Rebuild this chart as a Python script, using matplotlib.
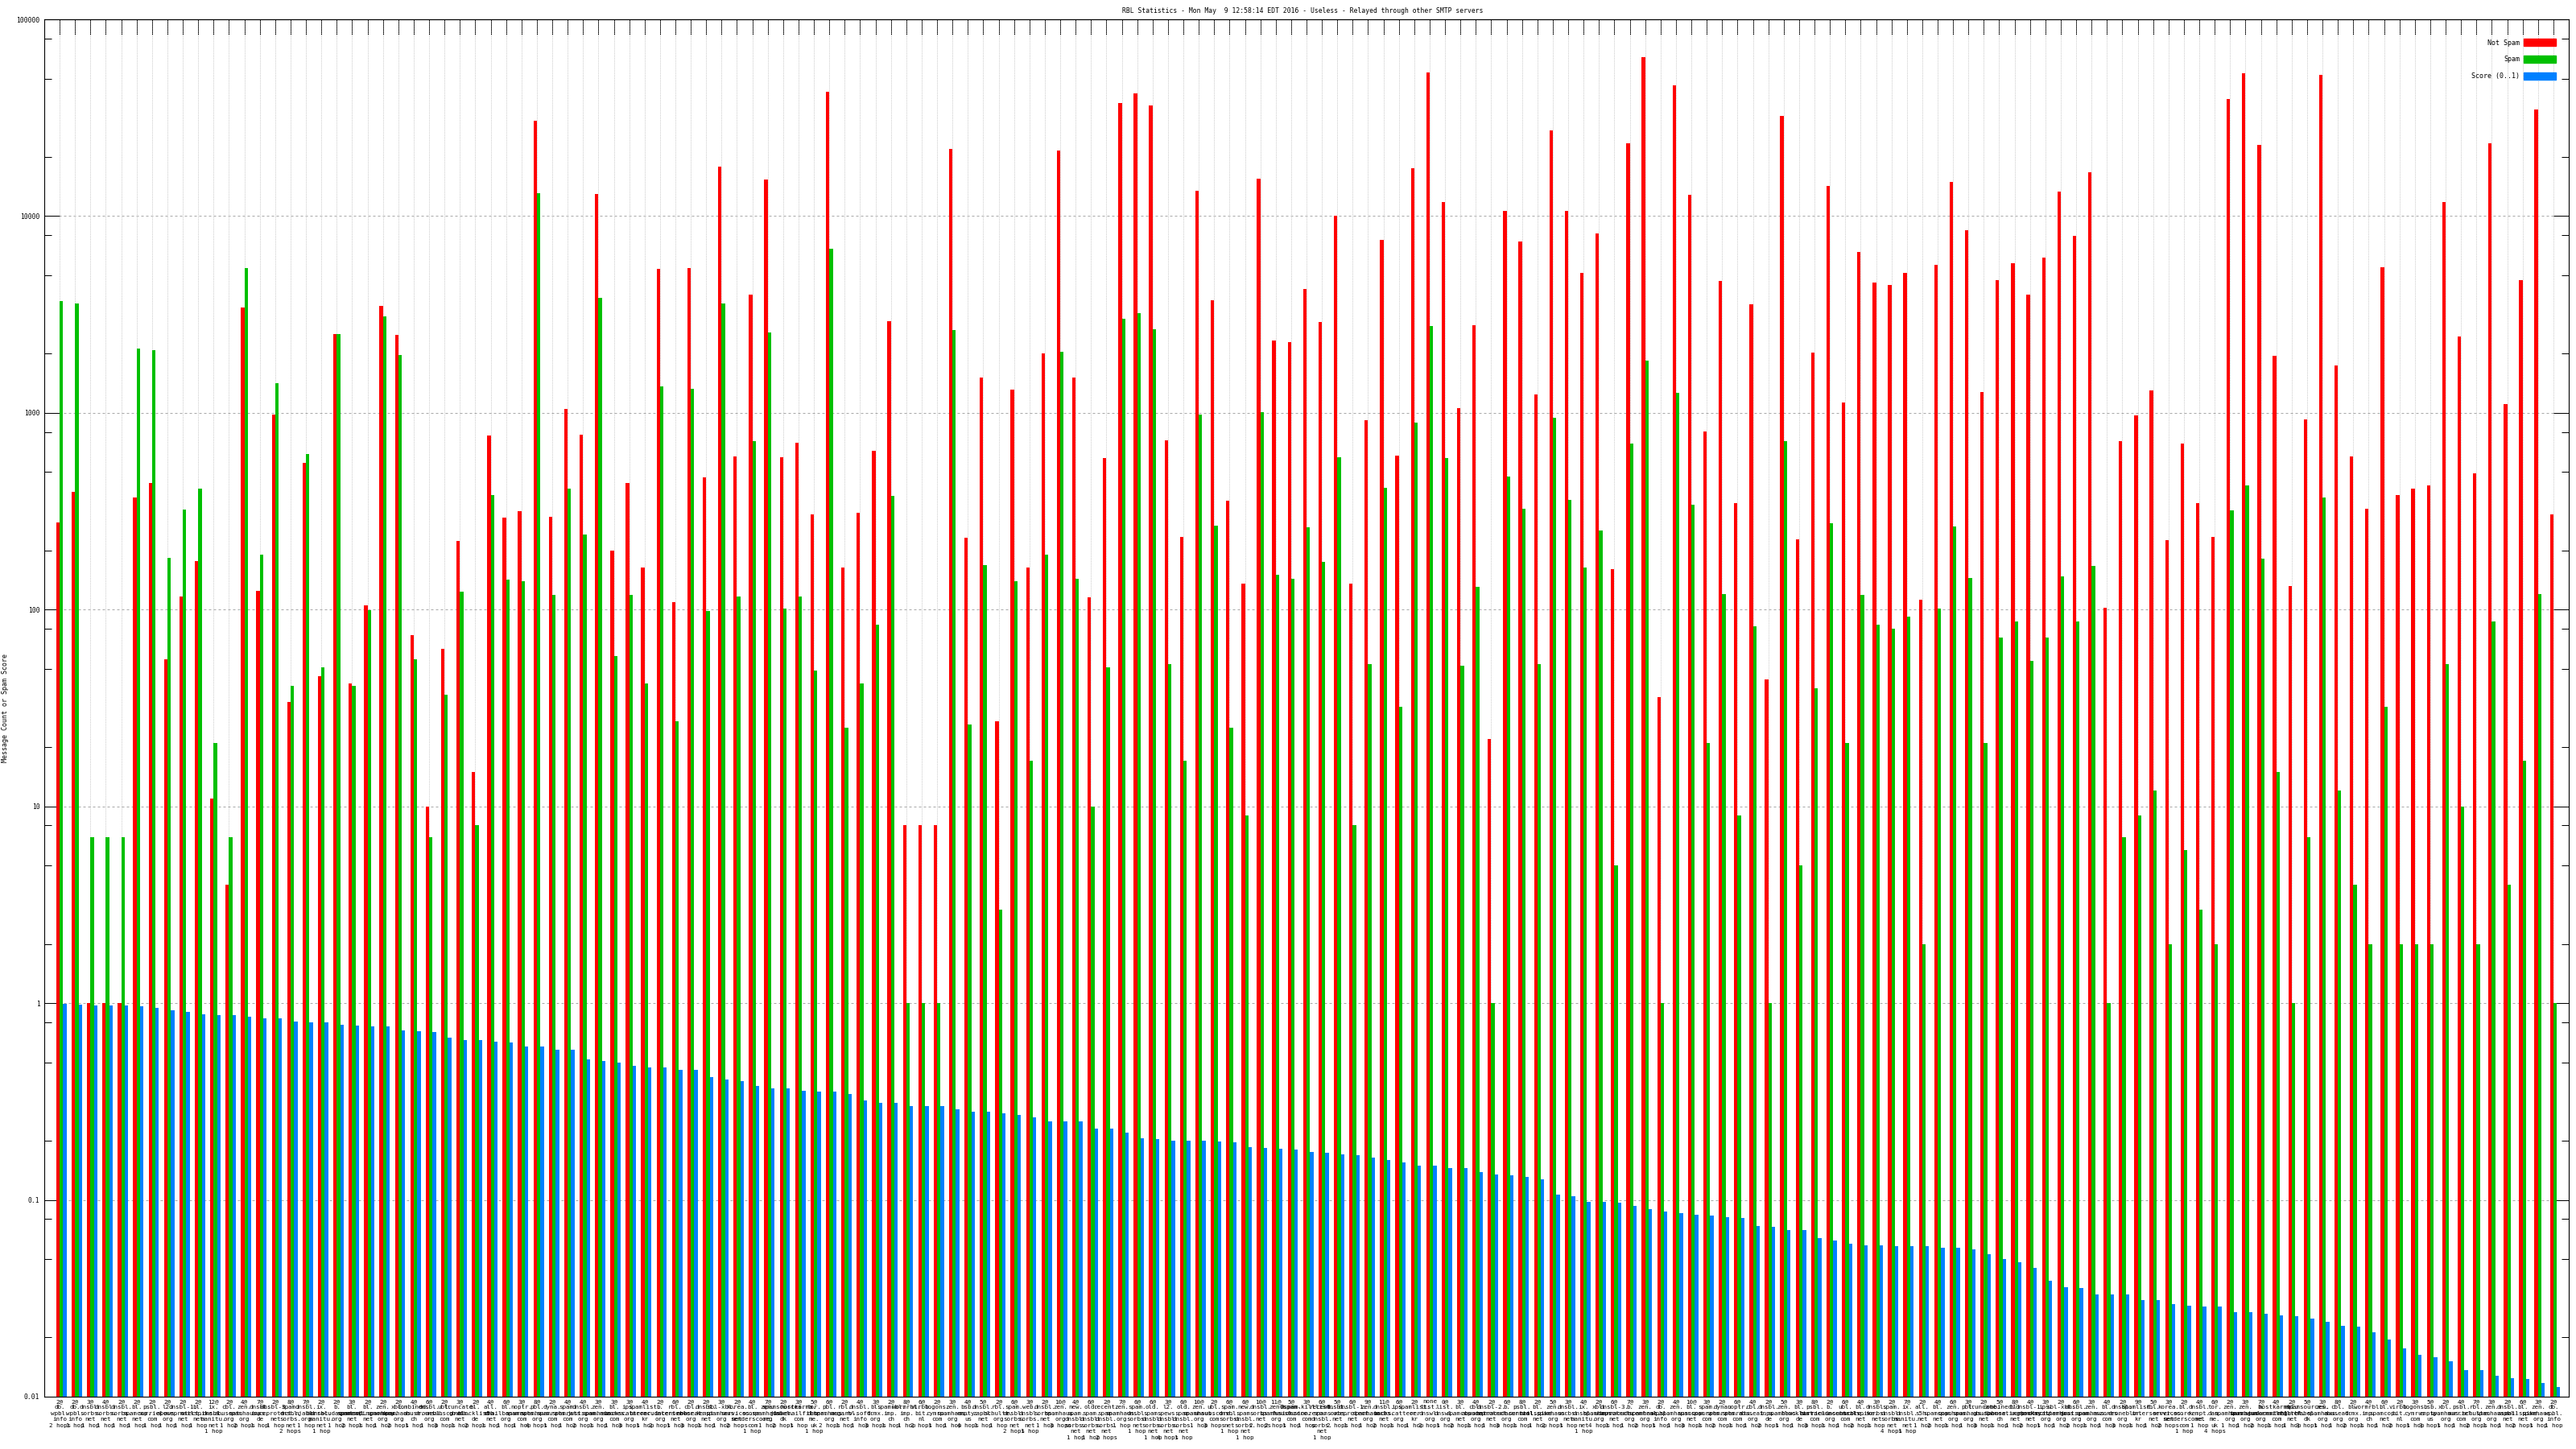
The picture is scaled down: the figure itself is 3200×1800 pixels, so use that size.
import numpy as np
import matplotlib
matplotlib.use("Agg")
import matplotlib.pyplot as plt
from matplotlib.patches import Patch
from matplotlib.ticker import FixedLocator, NullFormatter

plt.rcParams['font.family'] = ['DejaVu Sans Mono', 'DejaVu Sans']

title = "RBL Statistics - Mon May  9 12:58:14 EDT 2016 - Useless - Relayed through other SMTP servers"
series_names = ["Not Spam", "Spam", "Score (0..1)"]

# threshold ("N@"), rbl zone and hop count for each x label
thresholds = [
    "2", "2", "3", "4", "2", "2", "2", "2", "2", "2",
    "12", "2", "4", "7", "2", "8", "7", "2", "2", "3",
    "2", "2", "2", "4", "6", "2", "3", "2", "4", "6",
    "3", "8", "2", "4", "4", "3", "3", "3", "4", "2",
    "6", "2", "2", "3", "2", "4", "7", "2", "3", "5",
    "6", "2", "4", "3", "2", "8", "6", "2", "3", "4",
    "5", "2", "6", "3", "2", "10", "4", "6", "2", "7",
    "6", "6", "3", "6", "10", "2", "6", "6", "10", "11",
    "5", "3", "6", "5", "6", "9", "11", "6", "2", "none",
    "0", "3", "4", "2", "6", "8", "2", "5", "3", "4",
    "2", "6", "7", "3", "2", "4", "10", "3", "2", "6",
    "4", "2", "5", "3", "8", "2", "6", "4", "3", "2",
    "7", "2", "4", "6", "3", "2", "5", "8", "4", "3",
    "2", "6", "3", "4", "2", "9", "5", "3", "2", "4",
    "6", "2", "3", "7", "4", "2", "5", "3", "8", "2",
    "4", "6", "2", "3", "5", "2", "4", "7", "3", "2",
    "6", "3", "2",
]

zones = [
    "db.wpbl.info", "db.wpbl.info", "dnsbl.sorbs.net", "dnsbl.sorbs.net", "dnsbl.sorbs.net",
    "bl.spamcop.net", "psbl.surriel.com", "l2.apews.org", "dnsbl-1.uceprotect.net", "bl.mailspike.net",
    "ix.dnsbl.manitu.net", "cbl.abuseat.org", "zen.spamhaus.org", "dnsbl.inps.de", "dnsbl-3.uceprotect.net",
    "spam.dnsbl.sorbs.net", "dnsbl.njabl.org", "ix.dnsbl.manitu.net", "b.barracudacentral.org", "bl.spamcop.net",
    "bl.spameatingmonkey.net", "zen.spamhaus.org", "xbl.spamhaus.org", "combined.abuse.ch", "dnsbl.dronebl.org",
    "ubl.unsubscore.com", "truncate.gbudb.net", "bl.blocklist.de", "all.s5h.net", "bl.emailbasura.org",
    "noptr.spamrats.com", "pbl.spamhaus.org", "dyna.spamrats.com", "spam.spamrats.com", "dnsbl.justspam.org",
    "zen.spamhaus.org", "bl.nszones.com", "ips.backscatterer.org", "spamlist.or.kr", "b.barracudacentral.org",
    "rbl.interserver.net", "cbl.abuseat.org", "dnsbl.kempt.net", "sbl-xbl.spamhaus.org", "korea.services.net",
    "bl.score.senderscore.com", "zen.spamhaus.org", "spamsources.fabel.dk", "hostkarma.junkemailfilter.com", "tor.dan.me.uk",
    "pbl.spamhaus.org", "rbl.megarbl.net", "dnsbl.rv-soft.info", "bl.drmx.org", "spamrbl.imp.ch",
    "wormrbl.imp.ch", "virbl.bit.nl", "bogons.cymru.com", "zen.spamhaus.org", "bsb.empty.us",
    "dnsbl.zapbl.net", "rbl.schulte.org", "spam.dnsbl.sorbs.net", "web.dnsbl.sorbs.net", "dnsbl.sorbs.net",
    "zen.spamhaus.org", "new.spam.dnsbl.sorbs.net", "old.spam.dnsbl.sorbs.net", "recent.spam.dnsbl.sorbs.net", "zen.spamhaus.org",
    "spam.dnsbl.sorbs.net", "old.spam.dnsbl.sorbs.net", "l2.spews.dnsbl.sorbs.net", "old.spam.dnsbl.sorbs.net", "zen.spamhaus.org",
    "ubl.unsubscore.com", "spam.dnsbl.sorbs.net", "new.spam.dnsbl.sorbs.net", "dnsbl.sorbs.net", "zen.spamhaus.org",
    "0spam.fusionzero.com", "0spam-killlist.fusionzero.com", "recent.spam.dnsbl.sorbs.net", "dnsbl.sorbs.net", "dnsbl-1.uceprotect.net",
    "zen.spamhaus.org", "dnsbl.sorbs.net", "ips.backscatterer.org", "spamlist.or.kr", "list.dnswl.org",
    "list.dnswl.org", "bl.spamcop.net", "cbl.abuseat.org", "dnsbl-2.uceprotect.net", "b.barracudacentral.org",
    "psbl.surriel.com", "bl.mailspike.net", "zen.spamhaus.org", "dnsbl.sorbs.net", "ix.dnsbl.manitu.net",
    "xbl.spamhaus.org", "dnsbl-3.uceprotect.net", "b.barracudacentral.org", "zen.spamhaus.org", "db.wpbl.info",
    "zen.spamhaus.org", "bl.spamcop.net", "spam.spamrats.com", "dyna.spamrats.com", "noptr.spamrats.com",
    "cbl.abuseat.org", "dnsbl.inps.de", "zen.spamhaus.org", "bl.blocklist.de", "psbl.surriel.com",
    "b.barracudacentral.org", "ubl.unsubscore.com", "bl.mailspike.net", "dnsbl.sorbs.net", "spam.dnsbl.sorbs.net",
    "ix.dnsbl.manitu.net", "all.s5h.net", "bl.spamcop.net", "zen.spamhaus.org", "pbl.spamhaus.org",
    "truncate.gbudb.net", "combined.abuse.ch", "bl.spameatingmonkey.net", "dnsbl-1.uceprotect.net", "ips.backscatterer.org",
    "sbl-xbl.spamhaus.org", "dnsbl.justspam.org", "zen.spamhaus.org", "bl.nszones.com", "dnsbl.dronebl.org",
    "spamlist.or.kr", "rbl.interserver.net", "korea.services.net", "bl.score.senderscore.com", "dnsbl.kempt.net",
    "tor.dan.me.uk", "zen.spamhaus.org", "zen.spamhaus.org", "b.barracudacentral.org", "hostkarma.junkemailfilter.com",
    "rbl.megarbl.net", "spamsources.fabel.dk", "zen.spamhaus.org", "cbl.abuseat.org", "bl.drmx.org",
    "wormrbl.imp.ch", "bl.spamcop.net", "virbl.bit.nl", "bogons.cymru.com", "bsb.empty.us",
    "xbl.spamhaus.org", "psbl.surriel.com", "rbl.schulte.org", "zen.spamhaus.org", "dnsbl.zapbl.net",
    "bl.mailspike.net", "zen.spamhaus.org", "db.wpbl.info",
]

hops = [
    2, 1, 1, 1, 1, 1, 1, 1, 1, 1,
    1, 1, 2, 1, 1, 2, 1, 1, 1, 2,
    1, 1, 2, 1, 1, 3, 1, 2, 1, 1,
    1, 4, 1, 1, 2, 1, 1, 3, 1, 2,
    1, 3, 1, 1, 2, 1, 1, 2, 1, 1,
    2, 1, 1, 3, 1, 1, 2, 1, 1, 4,
    1, 1, 2, 1, 1, 3, 1, 1, 2, 1,
    1, 1, 4, 1, 1, 3, 1, 1, 2, 2,
    1, 1, 1, 2, 1, 1, 2, 1, 1, 2,
    1, 2, 1, 1, 3, 1, 1, 2, 1, 1,
    4, 1, 1, 2, 1, 1, 3, 1, 2, 1,
    1, 2, 1, 1, 3, 1, 1, 2, 1, 4,
    1, 1, 2, 1, 1, 3, 1, 1, 2, 1,
    1, 2, 1, 1, 3, 1, 1, 2, 1, 1,
    4, 1, 1, 2, 1, 1, 3, 1, 1, 2,
    1, 1, 2, 1, 3, 1, 1, 2, 1, 1,
    2, 1, 1,
]

not_spam = [
    278, 395, 1, 1, 1, 371, 438, 56, 117, 176,
    11, 4, 3417, 124, 979, 34, 555, 46, 2506, 42,
    105, 3490, 2483, 74, 10, 63, 224, 15, 764, 293,
    315, 30500, 296, 1042, 772, 12950, 200, 442, 164, 5380,
    109, 5436, 471, 17830, 603, 3990, 15280, 597, 704, 305,
    42900, 164, 311, 641, 2926, 8, 8, 8, 21930, 231,
    1511, 27, 1308, 164, 1996, 21480, 1511, 116, 591, 37500,
    42000, 36370, 726, 233, 13490, 3750, 356, 135, 15420, 2333,
    2286, 4246, 2897, 10000, 136, 921, 7570, 609, 17470, 53800,
    11800, 1052, 2780, 22, 10640, 7413, 1242, 27230, 10640, 5164,
    8128, 161, 23330, 64140, 36, 46100, 12820, 805, 4660, 349,
    3560, 44, 32440, 228, 2020, 14190, 1132, 6550, 4610, 4470,
    5164, 112, 5665, 14960, 8470, 1281, 4710, 5780, 3990, 6150,
    13360, 7960, 16760, 102, 719, 970, 1295, 226, 697, 349,
    233, 39450, 53240, 23070, 1955, 132, 930, 52150, 1746, 603,
    324, 5495, 383, 411, 429, 11800, 2455, 495, 23330, 1109,
    4710, 34900, 305,
]

spam = [
    3715, 3597, 7, 7, 7, 2125, 2080, 184, 321, 411,
    21, 7, 5436, 190, 1420, 41, 615, 51, 2506, 41,
    99, 3083, 1977, 56, 7, 37, 123, 8, 383, 142,
    139, 13100, 119, 411, 240, 3830, 58, 119, 42, 1362,
    27, 1321, 98, 3597, 117, 719, 2560, 101, 117, 49,
    6825, 25, 42, 84, 379, 1, 1, 1, 2640, 26,
    168, 3, 139, 17, 190, 2040, 144, 10, 51, 3020,
    3212, 2668, 53, 17, 979, 267, 25, 9, 1010, 150,
    144, 261, 175, 597, 8, 53, 416, 32, 893, 2750,
    591, 52, 131, 1, 476, 324, 53, 940, 360, 164,
    253, 5, 697, 1840, 1, 1268, 342, 21, 120, 9,
    82, 1, 719, 5, 40, 275, 21, 119, 84, 80,
    92, 2, 101, 264, 145, 21, 72, 87, 55, 72,
    147, 87, 166, 1, 7, 9, 12, 2, 6, 3,
    2, 318, 429, 182, 15, 1, 7, 371, 12, 4,
    2, 32, 2, 2, 2, 53, 10, 2, 87, 4,
    17, 120, 1,
]

score = [
    0.99, 0.98, 0.97, 0.97, 0.97, 0.96, 0.95, 0.92, 0.90, 0.88,
    0.87, 0.87, 0.85, 0.84, 0.84, 0.81, 0.80, 0.80, 0.78, 0.77,
    0.76, 0.76, 0.73, 0.72, 0.71, 0.67, 0.65, 0.65, 0.635, 0.63,
    0.60, 0.60, 0.58, 0.58, 0.52, 0.51, 0.50, 0.48, 0.47, 0.47,
    0.46, 0.46, 0.42, 0.41, 0.40, 0.38, 0.37, 0.37, 0.36, 0.355,
    0.355, 0.345, 0.32, 0.31, 0.31, 0.30, 0.30, 0.30, 0.29, 0.28,
    0.28, 0.275, 0.27, 0.264, 0.25, 0.25, 0.25, 0.23, 0.23, 0.22,
    0.206, 0.204, 0.20, 0.20, 0.20, 0.198, 0.196, 0.186, 0.184, 0.182,
    0.18, 0.176, 0.173, 0.171, 0.168, 0.164, 0.16, 0.155, 0.15, 0.15,
    0.145, 0.145, 0.138, 0.135, 0.134, 0.131, 0.127, 0.106, 0.104, 0.098,
    0.098, 0.097, 0.093, 0.09, 0.087, 0.086, 0.084, 0.083, 0.082, 0.081,
    0.074, 0.073, 0.07, 0.07, 0.064, 0.062, 0.06, 0.059, 0.059, 0.058,
    0.058, 0.058, 0.057, 0.057, 0.056, 0.053, 0.05, 0.048, 0.045, 0.039,
    0.036, 0.0356, 0.033, 0.033, 0.033, 0.031, 0.031, 0.0296, 0.029, 0.0286,
    0.0286, 0.027, 0.027, 0.0263, 0.026, 0.0256, 0.025, 0.024, 0.023, 0.0226,
    0.0212, 0.0196, 0.0176, 0.0163, 0.0158, 0.0152, 0.0137, 0.0136, 0.0128, 0.0124,
    0.0123, 0.0117, 0.0112,
]

ytick_vals = [0.01, 0.1, 1, 10, 100, 1000, 10000, 100000]
ytick_labels = ["0.01", "0.1", "1", "10", "100", "1000", "10000", "100000"]


def make_label(t, zone, h):
    head = "none" if t == "none" else t + "@"
    parts = zone.split(".")
    body = "\n".join(p + "." for p in parts[:-1]) + "\n" + parts[-1]
    tail = "%d hop" % h if h == 1 else "%d hops" % h
    return head + "\n" + body + "\n" + tail


labels = [make_label(t, z, h) for t, z, h in zip(thresholds, zones, hops)]
colors = ['#ff0000', '#00c000', '#0080ff']

fig = plt.figure(figsize=(32, 18), dpi=100)
ax = fig.add_axes([55 / 3200, 65 / 1800, 3136 / 3200, 1711 / 1800])

x = np.arange(len(not_spam))
w = 0.225
ax.bar(x - w / 2, not_spam, w, color=colors[0], linewidth=0, zorder=2)
ax.bar(x + w / 2, spam, w, color=colors[1], linewidth=0, zorder=2)
ax.bar(x + 1.5 * w, score, w, color=colors[2], linewidth=0, zorder=2)

ax.set_yscale('log')
ax.set_ylim(0.01, 100000)
ax.set_xlim(-1, 163)

# y ticks: decades labelled, minor at 2, 5, 8
ax.set_yticks(ytick_vals)
ax.set_yticklabels(ytick_labels)
minor = [m * d for d in ytick_vals[:-1] for m in (2, 5, 8)]
ax.yaxis.set_minor_locator(FixedLocator(minor))
ax.yaxis.set_minor_formatter(NullFormatter())
ax.tick_params(axis='y', which='major', direction='in', length=13.7, width=0.72,
               left=True, right=True, pad=4, labelsize=5.8)
ax.tick_params(axis='y', which='minor', direction='in', length=6.5, width=0.72,
               left=True, right=True)

ax.set_xticks(x)
ax.set_xticklabels(labels, fontsize=5.4, linespacing=1.3)
ax.tick_params(axis='x', which='major', direction='in', length=7, width=0.72, pad=2)
ax.tick_params(axis='x', which='minor', bottom=False, top=False)

top = ax.secondary_xaxis('top')
top.set_xticks(x)
top.tick_params(direction='in', length=13.7, width=0.72, labeltop=False)

# grid behind bars
ax.set_axisbelow(True)
ax.xaxis.grid(True, color='#b4b4b4', linestyle=(0, (1, 1.5)), linewidth=0.6)
ax.yaxis.grid(True, which='major', color='#a8a8a8', linestyle=(0, (3, 3)), linewidth=0.72)

for s in ax.spines.values():
    s.set_linewidth(0.8)
    s.set_color('black')

handles = [Patch(color=c) for c in colors]
fig.legend(handles, series_names, loc='upper right',
           bbox_to_anchor=(3175 / 3200, 1 - 48.4 / 1800),
           frameon=False, markerfirst=False, handlelength=4.8, handleheight=1.28,
           handletextpad=0.56, labelspacing=1.36, borderpad=0, borderaxespad=0,
           prop={'size': 6})

fig.text(1618 / 3200, 1 - 13 / 1800, title, ha='center', va='center', fontsize=5.8)
fig.text(6.7 / 3200, 1 - 879.5 / 1800, "Message Count or Spam Score", rotation=90,
         ha='center', va='center', fontsize=6)

fig.savefig('out.png', dpi=100)
